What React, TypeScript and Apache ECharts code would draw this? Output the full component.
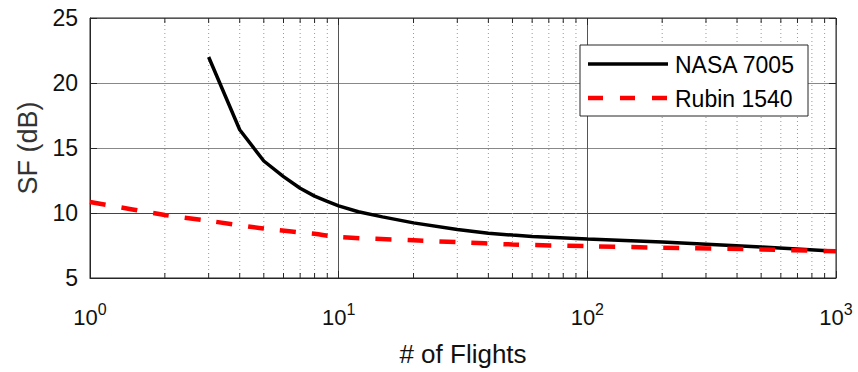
import React, { useEffect, useRef } from "react";
import * as echarts from "echarts";

const seriesNames = ["NASA 7005", "Rubin 1540"];

const nasaX = [3, 4, 5, 6, 7, 8, 9, 10, 12, 15, 20, 30, 40, 50, 60, 100, 200, 500, 1000];
const nasaY = [22, 16.4, 14.0, 12.8, 11.9, 11.3, 10.9, 10.55, 10.1, 9.7, 9.24, 8.73, 8.45, 8.3, 8.2, 8.0, 7.76, 7.38, 7.05];

const rubinX = [1, 2, 3, 5, 8, 10, 20, 30, 50, 100, 200, 500, 1000];
const rubinY = [10.85, 9.85, 9.4, 8.8, 8.4, 8.15, 7.9, 7.76, 7.58, 7.45, 7.33, 7.2, 7.05];

const minorTicks = [2, 3, 4, 5, 6, 7, 8, 9, 20, 30, 40, 50, 60, 70, 80, 90, 200, 300, 400, 500, 600, 700, 800, 900];

const X_MIN = 1;
const X_MAX = 1000;
const Y_MIN = 5;
const Y_MAX = 25;
const FONT = "Liberation Sans, Arial, sans-serif";

export default function App() {
  const ref = useRef<HTMLDivElement>(null);
  useEffect(() => {
    if (!ref.current) return;
    const chart = echarts.init(ref.current, null, { renderer: "svg" });
    const supLabel = (v: number) => `{b|10}{s|${Math.round(Math.log10(v))}}`;
    chart.setOption({
      animation: false,
      backgroundColor: "#fff",
      grid: { left: 90, right: 22, top: 18, bottom: 92, show: true, borderColor: "#262626", borderWidth: 1 },
      graphic: [
        {
          type: "rect",
          z: 100,
          shape: { x: 580, y: 45, width: 228, height: 71 },
          style: { fill: "#fff", stroke: "#262626", lineWidth: 1 },
        },
        {
          type: "line",
          z: 101,
          shape: { x1: 588, y1: 64, x2: 668, y2: 64 },
          style: { stroke: "#000", lineWidth: 3.5 },
        },
        {
          type: "line",
          z: 101,
          shape: { x1: 588, y1: 98, x2: 668, y2: 98 },
          style: { stroke: "#ff0000", lineWidth: 4.5, lineDash: [15, 17] },
        },
        {
          type: "text",
          z: 101,
          x: 675,
          y: 65,
          style: { text: seriesNames[0], fontFamily: FONT, fontSize: 23, fill: "#000", verticalAlign: "middle" },
        },
        {
          type: "text",
          z: 101,
          x: 675,
          y: 99,
          style: { text: seriesNames[1], fontFamily: FONT, fontSize: 23, fill: "#000", verticalAlign: "middle" },
        },
      ],
      xAxis: [
        {
          type: "log",
          logBase: 10,
          min: X_MIN,
          max: X_MAX,
          name: "# of Flights",
          nameLocation: "middle",
          nameGap: 63,
          nameTextStyle: { fontFamily: FONT, fontSize: 26, color: "#111" },
          axisLine: { show: true, lineStyle: { color: "#262626" } },
          axisTick: { show: true, inside: true, length: 7, lineStyle: { color: "#262626" } },
          axisLabel: {
            formatter: supLabel,
            margin: 23,
            rich: {
              b: { fontFamily: FONT, fontSize: 22, color: "#111" },
              s: { fontFamily: FONT, fontSize: 16, color: "#111", padding: [0, 0, 16, 0] },
            },
          },
          splitLine: { show: true, lineStyle: { color: "#555", width: 1 } },
        },
        {
          type: "log",
          logBase: 10,
          min: X_MIN,
          max: X_MAX,
          position: "top",
          axisLine: { show: false },
          axisTick: { show: true, inside: true, length: 7, lineStyle: { color: "#262626" } },
          axisLabel: { show: false },
          splitLine: { show: false },
        },
      ],
      yAxis: [
        {
          type: "value",
          min: Y_MIN,
          max: Y_MAX,
          interval: 5,
          name: "SF (dB)",
          nameLocation: "middle",
          nameGap: 49,
          nameTextStyle: { fontFamily: FONT, fontSize: 27, color: "#333" },
          axisLine: { show: true, lineStyle: { color: "#262626" } },
          axisTick: { show: true, inside: true, length: 7, lineStyle: { color: "#262626" } },
          axisLabel: { fontFamily: FONT, fontSize: 23, color: "#111", margin: 12 },
          splitLine: { show: true, lineStyle: { color: ["#555", "#444", "#888", "#888", "#555"], width: 1 } },
        },
        {
          type: "value",
          min: Y_MIN,
          max: Y_MAX,
          interval: 5,
          position: "right",
          axisLine: { show: false },
          axisTick: { show: true, inside: true, length: 7, lineStyle: { color: "#262626" } },
          axisLabel: { show: false },
          splitLine: { show: false },
        },
      ],
      series: [
        {
          type: "custom",
          silent: true,
          z: 1,
          data: minorTicks.map((v) => [v, Y_MIN]),
          encode: { x: 0, y: 1 },
          renderItem: (params: any, api: any) => {
            const v = api.value(0);
            const b = api.coord([v, Y_MIN]);
            const t = api.coord([v, Y_MAX]);
            return {
              type: "group",
              children: [
                { type: "line", shape: { x1: b[0], y1: b[1], x2: t[0], y2: t[1] }, style: { stroke: "#999", lineWidth: 1, lineDash: [1, 3] } },
                { type: "line", shape: { x1: b[0], y1: b[1], x2: b[0], y2: b[1] - 5 }, style: { stroke: "#262626", lineWidth: 1 } },
                { type: "line", shape: { x1: t[0], y1: t[1], x2: t[0], y2: t[1] + 5 }, style: { stroke: "#262626", lineWidth: 1 } },
              ],
            };
          },
        },
        {
          name: seriesNames[0],
          type: "line",
          data: nasaX.map((x, i) => [x, nasaY[i]]),
          showSymbol: false,
          symbol: "none",
          z: 3,
          lineStyle: { color: "#000", width: 3.5 },
          itemStyle: { color: "#000" },
        },
        {
          name: seriesNames[1],
          type: "line",
          data: rubinX.map((x, i) => [x, rubinY[i]]),
          showSymbol: false,
          symbol: "none",
          smooth: 0.3,
          z: 4,
          lineStyle: { color: "#ff0000", width: 4.5, type: [16, 16] },
          itemStyle: { color: "#ff0000" },
        },
      ],
    });
    return () => chart.dispose();
  }, []);
  return <div ref={ref} style={{ position: "fixed", left: 0, top: 0, width: 858, height: 372 }} />;
}
